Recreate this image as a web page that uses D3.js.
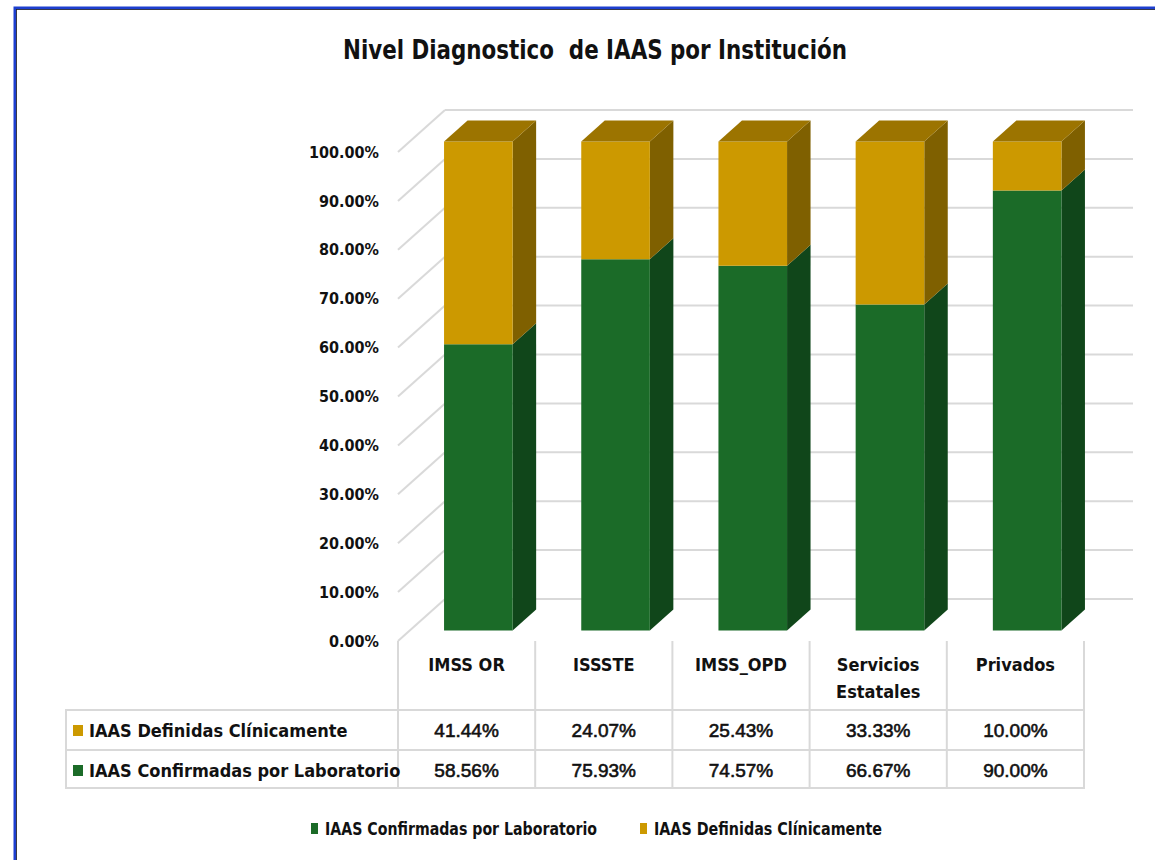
<!DOCTYPE html>
<html>
<head>
<meta charset="utf-8">
<title>Nivel Diagnostico de IAAS por Institución</title>
<script src="https://d3js.org/d3.v7.min.js"></script>
<style>
  body { margin: 0; background: #fff; }
  svg text { font-family: "Liberation Sans Narrow", "DejaVu Sans Condensed", "Liberation Sans", sans-serif; fill: #111; }
  .num { font-family: "Liberation Sans", Arial, sans-serif !important; }
  .grid { stroke: #d9d9d9; stroke-width: 2px; fill: none; }
</style>
</head>
<body>
<div id="chart"></div>
<script>
// data
var categories = ["IMSS OR", "ISSSTE", "IMSS_OPD", "Servicios Estatales", "Privados"];
var confirmadas = [0.5856, 0.7593, 0.7457, 0.6667, 0.9000];
var definidas   = [0.4144, 0.2407, 0.2543, 0.3333, 0.1000];
var seriesNames = ["IAAS Confirmadas por Laboratorio", "IAAS Definidas Clínicamente"];
var yTicks = [0, 0.1, 0.2, 0.3, 0.4, 0.5, 0.6, 0.7, 0.8, 0.9, 1];

var W = 1155, H = 860;
var front = {left: 398, right: 1084, bottom: 641, top: 152};
var depth = {dx: 47, dy: -42};   // offset from front plane to back wall
var colors = {
  green: "#1b6b28", greenSide: "#10461a", greenTop: "#14521f",
  gold: "#cc9900", goldSide: "#7f6000", goldTop: "#9c7400"
};

var svg = d3.select("#chart").append("svg")
    .attr("width", W).attr("height", H);

// outer frame (only left/top visible in the screenshot)
svg.append("rect")
    .attr("x", 15).attr("y", 8).attr("width", W + 40).attr("height", H + 40)
    .attr("fill", "none").attr("stroke", "#1d3fcf").attr("stroke-width", 3);
svg.append("rect")
    .attr("x", 16.5).attr("y", 9.5).attr("width", W + 40).attr("height", H + 40)
    .attr("fill", "none").attr("stroke", "#222").attr("stroke-width", 0.8);

svg.append("text")
    .attr("x", 343).attr("y", 59)
    .attr("textLength", 504).attr("lengthAdjust", "spacingAndGlyphs")
    .style("white-space", "pre")
    .style("font-size", "27px").style("font-weight", "bold")
    .text("Nivel Diagnostico  de IAAS por Institución");

var x = d3.scaleBand().domain(categories)
    .range([front.left, front.right])
    .paddingInner(0.5).paddingOuter(0.25);
var y = d3.scaleLinear().domain([0, 1]).range([front.bottom, front.top]);

function off(d) { return [depth.dx * d, depth.dy * d]; }

// walls
var g = svg.append("g");
yTicks.forEach(function(t) {
  var b = off(1);
  g.append("line").attr("class", "grid")
    .attr("x1", front.left).attr("y1", y(t))
    .attr("x2", front.left + b[0]).attr("y2", y(t) + b[1]);
  g.append("line").attr("class", "grid")
    .attr("x1", front.left + b[0]).attr("y1", y(t) + b[1])
    .attr("x2", front.right + b[0] + 2).attr("y2", y(t) + b[1]);
});

// y axis labels
var yAxis = svg.append("g")
    .attr("transform", "translate(" + front.left + ",0)")
    .call(d3.axisLeft(y).tickValues(yTicks).tickSize(0).tickPadding(19).tickFormat(d3.format(".2%")));
yAxis.select(".domain").remove();
yAxis.selectAll("text")
    .style("font-size", "16px").style("font-weight", "bold")
    .style("font-family", "'Liberation Sans Narrow', 'DejaVu Sans Condensed', sans-serif")
    .attr("fill", "#111");

// 3d stacked bars
var d0 = 0.25, d1 = 0.75;
function pts(a) { return a.map(function(p) { return p.join(","); }).join(" "); }

categories.forEach(function(c, i) {
  var segs = [
    {v0: 0, v1: confirmadas[i], f: colors.green, s: colors.greenSide, t: colors.greenTop},
    {v0: confirmadas[i], v1: confirmadas[i] + definidas[i], f: colors.gold, s: colors.goldSide, t: colors.goldTop}
  ];
  var xl = x(c), xr = x(c) + x.bandwidth();
  var a = off(d0), b = off(d1);
  segs.forEach(function(s, k) {
    var yb = y(s.v0), yt = y(s.v1);
    // side face
    svg.append("polygon").attr("fill", s.s).attr("points", pts([
      [xr + a[0], yb + a[1]], [xr + b[0], yb + b[1]],
      [xr + b[0], yt + b[1]], [xr + a[0], yt + a[1]]
    ]));
    // front face
    svg.append("polygon").attr("fill", s.f).attr("points", pts([
      [xl + a[0], yb + a[1]], [xr + a[0], yb + a[1]],
      [xr + a[0], yt + a[1]], [xl + a[0], yt + a[1]]
    ]));
    if (k === segs.length - 1) {
      svg.append("polygon").attr("fill", s.t).attr("points", pts([
        [xl + a[0], yt + a[1]], [xr + a[0], yt + a[1]],
        [xr + b[0], yt + b[1]], [xl + b[0], yt + b[1]]
      ]));
    }
  });
});

// data table
var tbl = {left: 66, headTop: front.bottom, row1: 710, row2: 750, bottom: 788};
var tg = svg.append("g");
var colEdges = [front.left].concat(categories.map(function(c) { return x(c) + x.bandwidth() + x.step() * 0.25; }));

colEdges.forEach(function(cx) {
  tg.append("line").attr("class", "grid")
    .attr("x1", cx).attr("x2", cx).attr("y1", tbl.headTop).attr("y2", tbl.bottom);
});
tg.append("line").attr("class", "grid").attr("x1", tbl.left).attr("x2", tbl.left).attr("y1", tbl.row1).attr("y2", tbl.bottom);
[tbl.row1, tbl.row2, tbl.bottom].forEach(function(ry) {
  tg.append("line").attr("class", "grid").attr("x1", tbl.left - 1).attr("x2", front.right + 1).attr("y1", ry).attr("y2", ry);
});

// category headers
categories.forEach(function(c) {
  var cx = x(c) + x.bandwidth() / 2;
  var words = c === "Servicios Estatales" ? ["Servicios", "Estatales"] : [c];
  words.forEach(function(w, j) {
    tg.append("text").attr("x", cx).attr("y", 671 + j * 27)
      .attr("text-anchor", "middle")
      .style("font-size", "18px").style("font-weight", "bold")
      .text(w);
  });
});

var rows = [
  {name: seriesNames[1], vals: definidas, color: colors.gold, y: 737},
  {name: seriesNames[0], vals: confirmadas, color: colors.green, y: 777}
];
var fmt = d3.format(".2%");
rows.forEach(function(r) {
  tg.append("rect").attr("x", 73).attr("y", r.y - 12).attr("width", 10).attr("height", 11).attr("fill", r.color);
  tg.append("text").attr("x", 89).attr("y", r.y)
    .style("font-size", "18px").style("font-weight", "bold").text(r.name);
  r.vals.forEach(function(v, i) {
    tg.append("text").attr("class", "num")
      .attr("x", x(categories[i]) + x.bandwidth() / 2).attr("y", r.y)
      .attr("text-anchor", "middle")
      .style("font-size", "19px")
      .attr("stroke", "#111").attr("stroke-width", 0.6)
      .text(fmt(v));
  });
});

// legend
var legend = [
  {name: seriesNames[0], color: colors.green, x: 311, w: 272},
  {name: seriesNames[1], color: colors.gold, x: 640, w: 228}
];
legend.forEach(function(l) {
  svg.append("rect").attr("x", l.x).attr("y", 823).attr("width", 7).attr("height", 11).attr("fill", l.color);
  svg.append("text").attr("x", l.x + 14).attr("y", 835)
    .attr("textLength", l.w).attr("lengthAdjust", "spacingAndGlyphs")
    .style("font-size", "17px").style("font-weight", "bold").text(l.name);
});
</script>
</body>
</html>
